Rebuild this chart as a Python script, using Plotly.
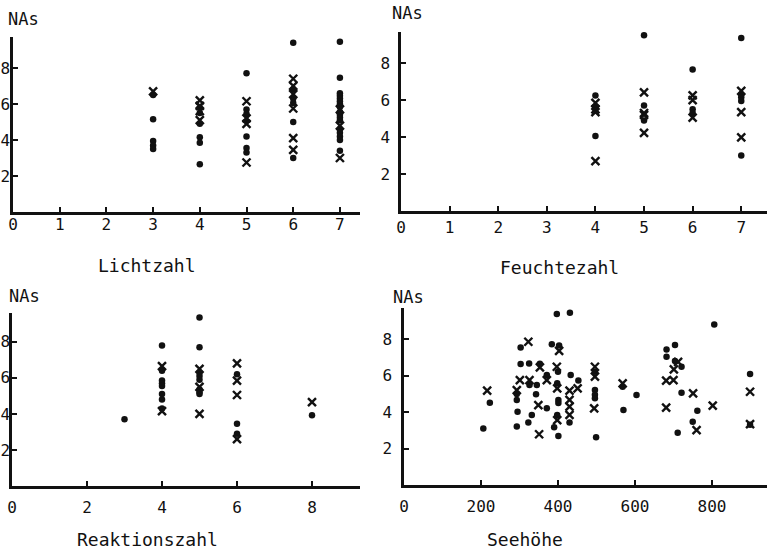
import plotly.graph_objects as go

# ---------------- data ----------------
# Panel 1: Lichtzahl
licht_dot_x = [3, 3, 3, 3, 3,
               4, 4, 4, 4, 4, 4,
               5, 5, 5, 5, 5, 5, 5,
               6, 6, 6, 6, 6, 6,
               7, 7, 7, 7, 7, 7, 7, 7, 7, 7, 7, 7, 7, 7, 7, 7, 7]
licht_dot_y = [6.5, 5.15, 3.95, 3.7, 3.5,
               5.8, 5.5, 4.9, 4.15, 3.85, 2.65,
               7.7, 5.7, 5.45, 5.05, 4.2, 3.55, 3.3,
               9.4, 6.8, 6.3, 6.05, 5.0, 3.0,
               9.45, 7.45, 6.6, 6.45, 6.3, 6.15, 6.0, 5.85, 5.55, 5.4, 5.25, 5.1, 4.6, 4.4, 4.2, 4.0, 3.4]
licht_x_x = [3, 4, 4, 4, 4, 5, 5, 5, 5, 6, 6, 6, 6, 6, 6, 7, 7, 7]
licht_x_y = [6.7, 6.2, 5.9, 5.6, 5.1, 6.15, 5.2, 4.9, 2.75, 7.4, 7.0, 6.55, 5.75, 4.1, 3.45, 5.7, 4.8, 3.0]

# Panel 2: Feuchtezahl
feucht_dot_x = [4, 4, 4, 5, 5, 5, 6, 6, 6, 7, 7, 7, 7, 7]
feucht_dot_y = [6.25, 5.65, 4.05, 9.5, 5.7, 4.9, 7.65, 5.5, 5.3, 9.35, 6.3, 6.15, 5.95, 3.0]
feucht_x_x = [4, 4, 4, 4, 5, 5, 5, 5, 6, 6, 6, 7, 7, 7]
feucht_x_y = [5.85, 5.5, 5.35, 2.7, 6.42, 5.3, 5.2, 4.22, 6.25, 6.0, 5.05, 6.5, 5.35, 3.98]

# Panel 3: Reaktionszahl
reakt_dot_x = [3,
               4, 4, 4, 4, 4, 4, 4, 4,
               5, 5, 5, 5, 5, 5, 5, 5, 5,
               6, 6, 6,
               8]
reakt_dot_y = [3.7,
               7.8, 6.4, 5.85, 5.7, 5.55, 5.1, 4.8, 4.3,
               9.75, 9.35, 7.7, 6.3, 6.1, 5.9, 5.35, 5.2, 5.1,
               6.2, 3.45, 2.9,
               3.93]
reakt_x_x = [4, 4, 5, 5, 5, 6, 6, 6, 6, 8]
reakt_x_y = [6.65, 4.15, 6.5, 5.5, 4.0, 6.8, 5.85, 5.05, 2.6, 4.65]

# Panel 4: Seehöhe
see_dot_x = [397, 431, 303, 384, 403, 303, 325, 353, 400, 433, 496, 326, 371, 345, 398, 453,
             223, 293, 293, 343, 371, 401, 401, 295, 332, 398, 430, 323, 293, 390, 206, 401,
             499, 496, 496, 496,
             806, 704, 682, 682, 704, 721, 568, 604, 721, 899, 570, 762, 750, 711, 899]
see_dot_y = [9.37, 9.44, 7.53, 7.71, 7.65, 6.63, 6.66, 6.65, 6.2, 6.03, 6.2, 5.48, 6.03, 5.48, 5.57, 5.72,
             4.51, 4.99, 4.66, 4.97, 4.2, 4.66, 4.49, 4.02, 3.84, 3.84, 3.42, 3.42, 3.2, 3.16, 3.1, 2.68,
             2.61, 5.2, 4.95, 4.75,
             8.8, 7.67, 7.43, 7.03, 6.8, 6.48, 5.39, 4.93, 5.06, 6.08, 4.11, 4.07, 3.47, 2.87, 3.3]
see_x_x = [323, 403, 353, 397, 496, 496, 301, 326, 371, 398, 430, 451, 216, 293, 349, 430, 430,
           494, 398, 430, 351,
           712, 701, 568, 681, 700, 751, 899, 681, 802, 760, 899]
see_x_y = [7.85, 7.35, 6.45, 6.48, 6.48, 5.94, 5.75, 5.75, 5.75, 5.3, 5.17, 5.3, 5.17, 5.2, 4.38, 4.66, 4.29,
           4.2, 3.56, 3.84, 2.78,
           6.75, 6.34, 5.57, 5.72, 5.75, 5.02, 5.11, 4.24, 4.35, 3.01, 3.34]

y_tick_vals = [2, 4, 6, 8]
x_ticks_17 = [0, 1, 2, 3, 4, 5, 6, 7]
x_ticks_reakt = [0, 2, 4, 6, 8]
x_ticks_see = [0, 200, 400, 600, 800]
x_titles = ["Lichtzahl", "Feuchtezahl", "Reaktionszahl", "Seehöhe"]
y_title = "NAs"

# ---------------- layout helpers ----------------
W, H = 769, 552
FONT = "DejaVu Sans Mono"
INK = "#111111"

def px_x(p):
    return p / W

def px_y(p):
    return 1 - p / H

panels = [
    dict(xd=(13, 360), yd=(37, 212), xr=[0, 7.43], yr=[0, 9.72], xt=x_ticks_17, ys=-3, xs=-4,
         dots=(licht_dot_x, licht_dot_y), crosses=(licht_x_x, licht_x_y)),
    dict(xd=(401, 767), yd=(32, 211), xr=[0, 7.53], yr=[0, 9.68], xt=x_ticks_17, ys=5, xs=0,
         dots=(feucht_dot_x, feucht_dot_y), crosses=(feucht_x_x, feucht_x_y)),
    dict(xd=(12, 360), yd=(313, 486), xr=[0, 9.28], yr=[0, 9.6], xt=x_ticks_reakt, ys=-4, xs=5,
         dots=(reakt_dot_x, reakt_dot_y), crosses=(reakt_x_x, reakt_x_y)),
    dict(xd=(404, 767), yd=(308, 485), xr=[0, 943], yr=[0, 9.7], xt=x_ticks_see, ys=6, xs=5,
         dots=(see_dot_x, see_dot_y), crosses=(see_x_x, see_x_y)),
]

fig = go.Figure()
layout = dict(
    width=W, height=H,
    margin=dict(l=0, r=0, t=0, b=0, pad=0, autoexpand=False),
    paper_bgcolor="white", plot_bgcolor="white",
    showlegend=False,
    font=dict(family=FONT, color=INK, size=16),
)

for i, p in enumerate(panels):
    n = "" if i == 0 else str(i + 1)
    xa, ya = "x" + n, "y" + n
    fig.add_trace(go.Scatter(
        x=p["dots"][0], y=p["dots"][1], xaxis=xa, yaxis=ya, mode="markers",
        marker=dict(symbol="circle", size=6.5, color=INK, line=dict(width=0)),
        cliponaxis=False, hoverinfo="skip"))
    fig.add_trace(go.Scatter(
        x=p["crosses"][0], y=p["crosses"][1], xaxis=xa, yaxis=ya, mode="markers",
        marker=dict(symbol="x-thin-open", size=8, color=INK, line=dict(width=2.4, color=INK)),
        cliponaxis=False, hoverinfo="skip"))
    layout["xaxis" + n] = dict(
        domain=[px_x(p["xd"][0]), px_x(p["xd"][1])], range=p["xr"], anchor=ya,
        automargin=False,
        showgrid=False, zeroline=False, showline=True, linecolor=INK, linewidth=2.5,
        ticks="inside", ticklen=5, tickwidth=2, tickcolor=INK,
        tickvals=p["xt"], ticktext=[str(v) for v in p["xt"]],
        tickfont=dict(family=FONT, size=16, color=INK), ticklabelstandoff=p["xs"],
        fixedrange=True)
    layout["yaxis" + n] = dict(
        domain=[px_y(p["yd"][1]), px_y(p["yd"][0])], range=p["yr"], anchor=xa,
        automargin=False,
        showgrid=False, zeroline=False, showline=True, linecolor=INK, linewidth=2.5,
        ticks="inside", ticklen=5, tickwidth=2, tickcolor=INK,
        tickvals=y_tick_vals, ticktext=[str(v) for v in y_tick_vals],
        tickfont=dict(family=FONT, size=16, color=INK), ticklabelstandoff=p["ys"],
        fixedrange=True)

fig.update_layout(**layout)

title_pos = [(147, 265), (559, 267), (147, 539), (525, 539)]
nas_pos = [(23, 19), (407, 13), (24, 296), (409, 297)]
for (tx, ty), t in zip(title_pos, x_titles):
    fig.add_annotation(x=px_x(tx), y=px_y(ty), xref="paper", yref="paper", text=t,
                       showarrow=False, font=dict(family=FONT, size=18, color=INK),
                       xanchor="center", yanchor="middle")
for (tx, ty) in nas_pos:
    fig.add_annotation(x=px_x(tx), y=px_y(ty), xref="paper", yref="paper", text=y_title,
                       showarrow=False, font=dict(family=FONT, size=17, color=INK),
                       xanchor="center", yanchor="middle")

fig.write_html("out.html", config={"displayModeBar": False},
               post_script="document.body.style.margin='0';document.body.style.padding='0';")
